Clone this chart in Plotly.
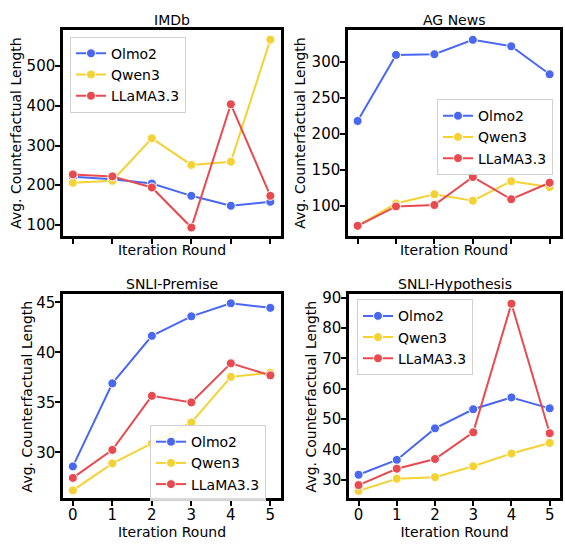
import plotly.graph_objects as go

rounds = [0, 1, 2, 3, 4, 5]
models = ["Olmo2", "Qwen3", "LLaMA3.3"]
colors = {"Olmo2": "#4a67f2", "Qwen3": "#f5d234", "LLaMA3.3": "#e84a50"}

imdb = {
    "Olmo2": [221, 215, 204, 173, 148, 158],
    "Qwen3": [206, 211, 318, 251, 259, 567],
    "LLaMA3.3": [227, 222, 194, 93, 404, 173],
}
agnews = {
    "Olmo2": [218, 310, 311, 331, 322, 283],
    "Qwen3": [72, 103, 116, 107, 134, 126],
    "LLaMA3.3": [72, 99, 101, 140, 109, 132],
}
premise = {
    "Olmo2": [28.6, 36.9, 41.65, 43.6, 44.9, 44.45],
    "Qwen3": [26.2, 28.9, 30.9, 33.0, 37.55, 37.95],
    "LLaMA3.3": [27.45, 30.25, 35.65, 35.0, 38.9, 37.7],
}
hypothesis = {
    "Olmo2": [31.6, 36.5, 46.9, 53.2, 57.1, 53.5],
    "Qwen3": [26.3, 30.3, 30.8, 34.4, 38.6, 42.1],
    "LLaMA3.3": [28.2, 33.6, 36.8, 45.6, 88.0, 45.3],
}

panels = [
    ("IMDb", imdb, [72, 592], [100, 200, 300, 400, 500]),
    ("AG News", agnews, [58, 345], [100, 150, 200, 250, 300]),
    ("SNLI-Premise", premise, [25.4, 45.8], [30, 35, 40, 45]),
    ("SNLI-Hypothesis", hypothesis, [23.8, 91.1], [30, 40, 50, 60, 70, 80, 90]),
]

W, H = 565, 545
# pixel boxes (left, right, top, bottom)
boxes = [(63, 281, 25, 233), (348, 560, 25, 233), (63, 281, 292, 498), (349, 560, 292, 498)]
legend_pos = [(70, 32), (437, 95), (150, 424), (357, 297)]
ytitle_x = [16, 300, 27, 311]

FONT = "DejaVu Sans"
fig = go.Figure()
layout = {}
for i, (title, data, yr, yt) in enumerate(panels):
    n = i + 1
    xa = "x" if n == 1 else f"x{n}"
    ya = "y" if n == 1 else f"y{n}"
    lg = "legend" if n == 1 else f"legend{n}"
    for m in models:
        fig.add_trace(go.Scatter(
            x=rounds, y=data[m], name=m, mode="lines+markers",
            line=dict(color=colors[m], width=2),
            marker=dict(size=9, color=colors[m], line=dict(color="white", width=1)),
            xaxis=xa, yaxis=ya, legend=lg, showlegend=True,
        ))
    l, r, t, b = boxes[i]
    layout[f"xaxis{'' if n == 1 else n}"] = dict(
        domain=[l / W, r / W], anchor=ya, range=[-0.25, 5.27],
        tickvals=rounds, showticklabels=(n > 2),
        ticks="outside", ticklen=5, tickwidth=1.5, tickcolor="black",
        ticklabelstandoff=-4,
        showline=True, mirror=True, linewidth=2.5, linecolor="black",
        showgrid=False, zeroline=False,
        title=dict(text="Iteration Round", font=dict(size=14, family=FONT, color="black"),
                   standoff=(2 if n > 2 else 3)),
        tickfont=dict(size=15, family=FONT, color="black"),
    )
    layout[f"yaxis{'' if n == 1 else n}"] = dict(
        domain=[1 - b / H, 1 - t / H], anchor=xa, range=yr, tickvals=yt,
        ticks="outside", ticklen=5, tickwidth=1.5, tickcolor="black",
        ticklabelstandoff=-3,
        showline=True, mirror=True, linewidth=2.5, linecolor="black",
        showgrid=False, zeroline=False,
        tickfont=dict(size=15, family=FONT, color="black"),
    )
    fig.add_annotation(
        text="Avg. Counterfactual Length", textangle=-90,
        x=ytitle_x[i] / W, y=1 - (t + b) / 2 / H, xref="paper", yref="paper",
        showarrow=False, font=dict(size=14, family=FONT, color="black"),
        xanchor="center", yanchor="middle",
    )
    lx, ly = legend_pos[i]
    layout[lg] = dict(
        x=lx / W, y=1 - ly / H, xanchor="left", yanchor="top",
        xref="paper", yref="paper",
        bgcolor="rgba(255,255,255,0.85)", bordercolor="#d0d0d0", borderwidth=1,
        font=dict(size=14, family=FONT, color="black"),
        tracegroupgap=0, itemwidth=30,
    )
    fig.add_annotation(
        text=title, x=(l + r) / 2 / W, y=1 - (t - 10) / H, xref="paper", yref="paper",
        showarrow=False, font=dict(size=14, family=FONT, color="black"),
        xanchor="center", yanchor="middle",
    )

fig.update_layout(
    width=W, height=H, margin=dict(l=0, r=0, t=0, b=0),
    plot_bgcolor="white", paper_bgcolor="white",
    font=dict(family=FONT, color="black"),
    **layout,
)
fig.write_html("out.html")
